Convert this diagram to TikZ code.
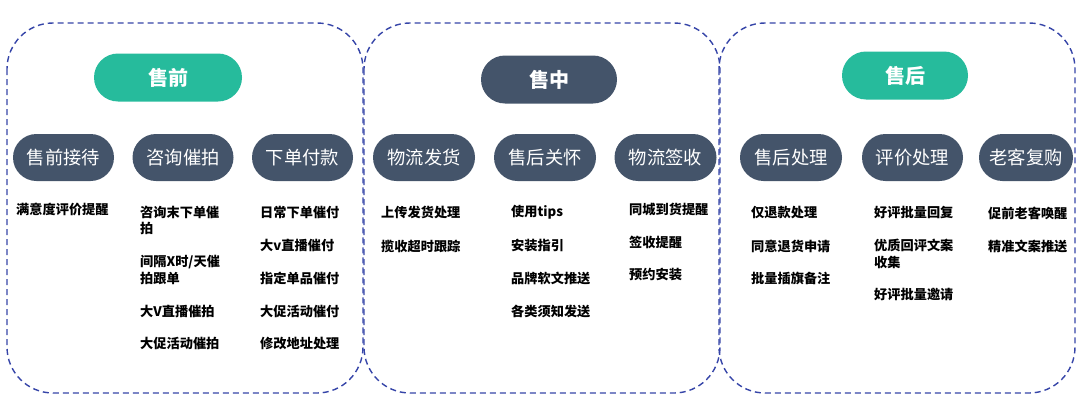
\documentclass[tikz,border=0pt]{standalone}
\usepackage{fontspec}
\setmainfont{Noto Sans CJK SC}
\newfontfamily\cjk{Noto Sans CJK SC}
\definecolor{pgreen}{HTML}{26BB9C}
\definecolor{pslate}{HTML}{44546A}
\definecolor{pdash}{HTML}{3645A8}
\tikzset{
  panel/.style={draw=pdash, line width=1.4pt, dash pattern=on 6pt off 4pt, rounded corners=46pt},
  titlepill/.style={rounded rectangle, minimum width=#1, minimum height=48pt, text=white, font=\cjk\bfseries\fontsize{20}{22}\selectfont, inner sep=0pt},
  subpill/.style={rounded rectangle, fill=pslate, minimum width=#1, minimum height=47pt, text=white, font=\cjk\fontsize{18.3}{20}\selectfont, inner sep=0pt},
  item/.style={anchor=west, font=\cjk\bfseries\fontsize{13.2}{16.5}\selectfont, align=left, inner sep=0pt, text=black},
}
\usetikzlibrary{shapes.misc}
\begin{document}
\begin{tikzpicture}[x=1pt,y=-1pt]
\useasboundingbox (0,0) rectangle (1080,407);
% panels
\draw[panel] (7,23) rectangle (363,393);
\draw[panel] (364,23) rectangle (720,393);
\draw[panel] (719,23) rectangle (1075,393);
% titles
\node[titlepill=148pt, fill=pgreen] (t1) at (168,77.5) {售前};
\node[titlepill=136pt, fill=pslate] (t2) at (549,79.5) {售中};
\node[titlepill=126pt, fill=pgreen] (t3) at (905,75.5) {售后};
% sub pills
\node[subpill=101pt] (s11) at (63.5,157.5) {售前接待};
\node[subpill=101pt] (s12) at (183,157.5) {咨询催拍};
\node[subpill=101pt] (s13) at (302.5,157.5) {下单付款};
\node[subpill=102pt] (s21) at (424,157.5) {物流发货};
\node[subpill=102pt] (s22) at (545,157.5) {售后关怀};
\node[subpill=102pt] (s23) at (665.5,157.5) {物流签收};
\node[subpill=102pt] (s31) at (791,157.5) {售后处理};
\node[subpill=101pt] (s32) at (912.5,157.5) {评价处理};
\node[subpill=94pt] (s33) at (1026,157.5) {老客复购};
% panel 1 items
\node[item] (a1) at (16,209.5) {满意度评价提醒};
\node[item] (b1) at (140,220.5) {咨询末下单催\\拍};
\node[item] (b2) at (140,270) {间隔X时/天催\\拍跟单};
\node[item] (b3) at (140,311) {大V直播催拍};
\node[item] (b4) at (140,343.5) {大促活动催拍};
\node[item] (c1) at (260,212.5) {日常下单催付};
\node[item] (c2) at (260,245) {大v直播催付};
\node[item] (c3) at (260,278) {指定单品催付};
\node[item] (c4) at (260,311) {大促活动催付};
\node[item] (c5) at (260,343.5) {修改地址处理};
% panel 2 items
\node[item] (d1) at (381,212.5) {上传发货处理};
\node[item] (d2) at (381,246) {揽收超时跟踪};
\node[item] (e1) at (511,212.5) {使用tips};
\node[item] (e2) at (511,246) {安装指引};
\node[item] (e3) at (511,278) {品牌软文推送};
\node[item] (e4) at (511,311) {各类须知发送};
\node[item] (f1) at (629,209.5) {同城到货提醒};
\node[item] (f2) at (629,242) {签收提醒};
\node[item] (f3) at (629,274.5) {预约安装};
% panel 3 items
\node[item] (g1) at (751,212.5) {仅退款处理};
\node[item] (g2) at (751,246) {同意退货申请};
\node[item] (g3) at (751,278.5) {批量插旗备注};
\node[item] (h1) at (874,212.5) {好评批量回复};
\node[item] (h2) at (874,254) {优质回评文案\\收集};
\node[item] (h3) at (874,294.5) {好评批量邀请};
\node[item] (i1) at (988,213.5) {促前老客唤醒};
\node[item] (i2) at (988,246.5) {精准文案推送};
\end{tikzpicture}
\end{document}
